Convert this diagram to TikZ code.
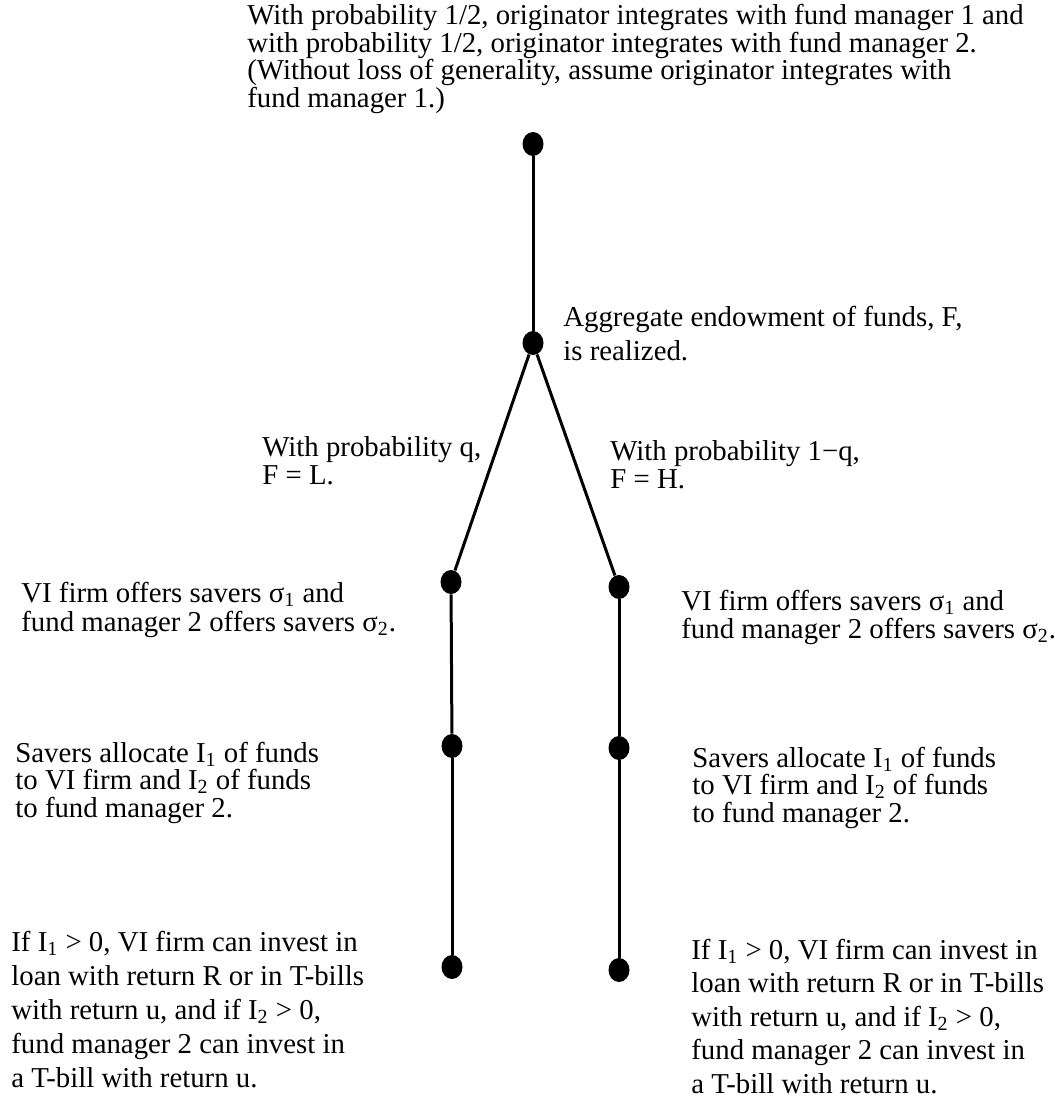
\documentclass[tikz,border=0pt]{standalone}
\usepackage{fontspec}
\setmainfont{Liberation Serif}
\usetikzlibrary{shapes.geometric}
\lineskiplimit=-30pt
\lineskip=0pt
\begin{document}
\begin{tikzpicture}[x=0.5pt,y=-0.5pt,
  dot/.style={ellipse,fill=black,inner sep=0pt,minimum width=10.5pt,minimum height=12pt},
  conn/.style={line width=1.5pt},
  lbl/.style={anchor=base west,align=left,inner sep=0pt,font={\fontsize{14.4pt}{#1}\selectfont}}]
\useasboundingbox (0,0) rectangle (1055,1099);
% dots
\node[dot] (top) at (533,144) {};
\node[dot] (agg) at (533,343) {};
\node[dot] (L1) at (451,582) {};
\node[dot] (R1) at (619,587) {};
\node[dot] (L2) at (452,746) {};
\node[dot] (R2) at (619,748) {};
\node[dot] (L3) at (452,967) {};
\node[dot] (R3) at (619,970) {};
% connectors
\draw[conn] (top) -- (agg);
\draw[conn] (agg) -- (L1);
\draw[conn] (agg) -- (R1);
\draw[conn] (L1) -- (L2);
\draw[conn] (L2) -- (L3);
\draw[conn] (R1) -- (R2);
\draw[conn] (R2) -- (R3);
% labels (anchored at the baseline of their last line)
\node[lbl=13.7pt] (ttop) at (247,107) {With probability 1/2, originator integrates with fund manager 1 and\\with probability 1/2, originator integrates with fund manager 2.\\(Without loss of generality, assume originator integrates with\\fund manager 1.)};
\node[lbl=17pt] (tagg) at (563,360) {Aggregate endowment of funds, F,\\is realized.};
\node[lbl=14pt] (tq) at (262,484) {With probability q,\\F = L.};
\node[lbl=14pt] (tnq) at (610,488) {With probability 1−q,\\F = H.};
\node[lbl=14.2pt] (tvl) at (21,631) {VI firm offers savers σ\textsubscript{1} and\\fund manager 2 offers savers σ\textsubscript{2}.};
\node[lbl=13.8pt] (tvr) at (681,638) {VI firm offers savers σ\textsubscript{1} and\\fund manager 2 offers savers σ\textsubscript{2}.};
\node[lbl=13.75pt] (tsl) at (15,817) {Savers allocate I\textsubscript{1} of funds\\to VI firm and I\textsubscript{2} of funds\\to fund manager 2.};
\node[lbl=13.75pt] (tsr) at (692,822) {Savers allocate I\textsubscript{1} of funds\\to VI firm and I\textsubscript{2} of funds\\to fund manager 2.};
\node[lbl=17pt] (til) at (11,1087) {If I\textsubscript{1} > 0, VI firm can invest in\\loan with return R or in T-bills\\with return u, and if I\textsubscript{2} > 0,\\fund manager 2 can invest in\\a T-bill with return u.};
\node[lbl=16.75pt] (tir) at (691,1093) {If I\textsubscript{1} > 0, VI firm can invest in\\loan with return R or in T-bills\\with return u, and if I\textsubscript{2} > 0,\\fund manager 2 can invest in\\a T-bill with return u.};
\end{tikzpicture}
\end{document}
